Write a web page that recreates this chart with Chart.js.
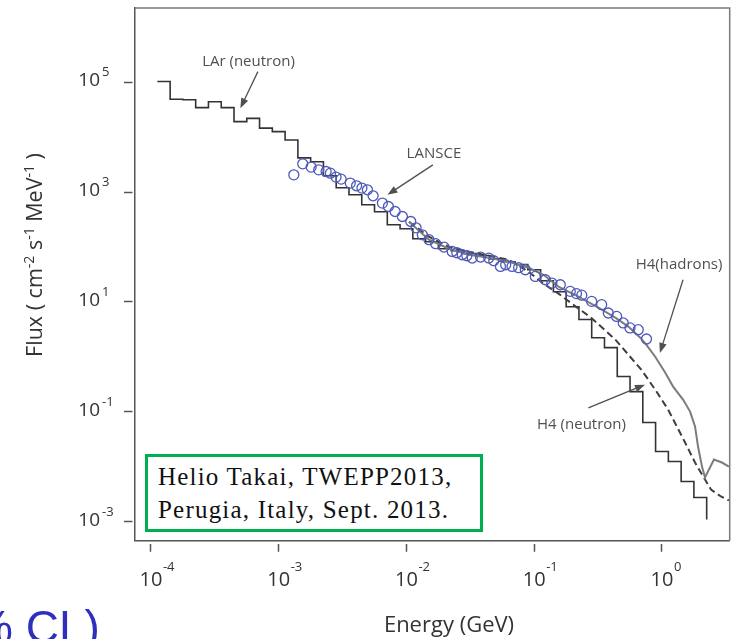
<!DOCTYPE html>
<html>
<head>
<meta charset="utf-8">
<script src="https://cdn.jsdelivr.net/npm/chart.js@4.4.1/dist/chart.umd.min.js"></script>
<style>
  html, body { margin: 0; padding: 0; background: #fff; }
  #wrap { position: relative; width: 736px; height: 639px; overflow: hidden; }
  #note {
    position: absolute; left: 145px; top: 454px; width: 338px; height: 78px;
    box-sizing: border-box; border: 3.3px solid #00b050; background: #fff;
    padding: 2.5px 0 0 10px;
    font-family: "Liberation Serif", "Times New Roman", serif;
    font-size: 25px; line-height: 33px; color: #111; letter-spacing: 1.2px;
    white-space: nowrap;
  }
  #cl {
    position: absolute; left: -28px; top: 604px;
    font-family: "Liberation Sans", Arial, sans-serif;
    font-size: 46px; line-height: 46px; color: #2f2fbf; white-space: nowrap;
  }
</style>
</head>
<body>
<div id="wrap">
  <canvas id="flux"></canvas>
  <div id="note">Helio Takai, TWEPP2013,<br>Perugia, Italy, Sept. 2013.</div>
  <div id="cl">% CL)</div>
</div>
<script>
// LAr neutron spectrum, histogram bin edges (GeV) and per-bin flux
const larEdges = [
  1.122e-4, 1.413e-4, 1.778e-4, 2.239e-4, 2.818e-4, 3.548e-4, 4.467e-4, 5.623e-4, 7.079e-4, 8.913e-4,
  1.122e-3, 1.413e-3, 1.778e-3, 2.239e-3, 2.818e-3, 3.548e-3, 4.467e-3, 5.623e-3, 7.079e-3, 8.913e-3,
  0.01122, 0.01413, 0.01778, 0.02239, 0.02818, 0.03548, 0.04467, 0.05623, 0.07079, 0.08913,
  0.1122, 0.1413, 0.1778, 0.2239, 0.2818, 0.3548, 0.4467, 0.5623, 0.7079, 0.8913,
  1.122, 1.413, 1.778, 2.239
];
const larFlux = [
  1.03e5, 4.9e4, 4.8e4, 3.45e4, 4.4e4, 3.45e4, 1.92e4, 2.2e4, 1.46e4, 1.26e4,
  8.9e3, 4.2e3, 3.56e3, 1.98e3, 1.2e3, 893, 588, 438, 254, 215,
  142, 125, 93, 86, 76, 70, 61, 54, 48, 38.6,
  24.4, 15.4, 8.2, 4.8, 2.24, 1.48, 0.44, 0.234, 0.064, 0.019,
  0.0125, 0.0054, 0.00277
];
const larTail = 0.0011;

// LANSCE measurement
const lansceEnergy = [
  1.313e-3, 1.542e-3, 1.794e-3, 2.056e-3, 2.35e-3, 2.54e-3, 2.81e-3, 3.08e-3, 3.63e-3, 4.07e-3,
  4.48e-3, 4.95e-3, 5.48e-3, 6.48e-3, 7.22e-3, 8.15e-3, 9.29e-3, 0.01081, 0.01189, 0.01331,
  0.0150, 0.01693, 0.01965, 0.0228, 0.0248, 0.0273, 0.0297, 0.0327, 0.038, 0.0441,
  0.0482, 0.0544, 0.0598, 0.067, 0.0755, 0.0852, 0.102, 0.1222, 0.1375, 0.16,
  0.1914, 0.2143, 0.2357, 0.2818, 0.3373, 0.3802, 0.4416, 0.4977, 0.5618, 0.652, 0.7568
];
const lansceFlux = [
  2065, 3273, 2851, 2543, 2370, 2215, 1875, 1723, 1458, 1303,
  1183, 1102, 857, 631, 547, 444, 360, 292, 224, 167,
  136, 115, 100, 83, 78.8, 72.4, 69.5, 63.1, 65.8, 63.1,
  56.4, 44.4, 47.6, 44.4, 42.1, 38.6, 29.2, 25.4, 22.1, 20.6,
  15.6, 14.2, 13.3, 10.26, 8.93, 6.31, 5.47, 4.15, 3.37, 3.13, 2.12
];

// H4 hadrons
const hadronEnergy = [
  0.01047, 0.0150, 0.0215, 0.0308, 0.0441, 0.0631, 0.0903, 0.1183, 0.1549, 0.2218,
  0.3177, 0.4313, 0.5453, 0.6765, 0.7535, 0.8853, 1.059, 1.222, 1.462, 1.660,
  1.815, 1.916, 2.057, 2.172, 2.552, 2.945, 3.34
];
const hadronFlux = [
  288, 136, 93, 72.4, 63.8, 54.1, 42.1, 31.3, 19.0, 12.5,
  7.87, 5.19, 3.56, 2.24, 1.67, 1.01, 0.519, 0.2886, 0.1675, 0.1012,
  0.0541, 0.0234, 0.0101, 0.00638, 0.0136, 0.01197, 0.0101
];

// H4 neutrons
const h4nEnergy = [
  0.01047, 0.0150, 0.0215, 0.0308, 0.0441, 0.0631, 0.0903, 0.1183, 0.1549, 0.2104,
  0.2805, 0.4313, 0.6887, 0.8853, 1.117, 1.517, 1.815, 2.172, 2.42, 2.897, 3.34
];
const h4nFlux = [
  288, 154, 101, 82.2, 69.5, 58.8, 35.6, 21.5, 14.2, 8.32,
  5.12, 2.07, 0.5875, 0.2543, 0.1101, 0.0277, 0.01197, 0.00587, 0.00386, 0.00288, 0.00244
];

const xTicks = [1e-4, 1e-3, 1e-2, 1e-1, 1];
const yTicks = [1e-3, 1e-1, 1e1, 1e3, 1e5];

// labelled arrows, in (energy, flux)
const noteText = ['LAr (neutron)', 'LANSCE', 'H4(hadrons)', 'H4 (neutron)'];
const noteAt = [[5.8e-4, 2.37e5], [0.0164, 4966], [1.361, 47.6], [0.2345, 0.0585]];
const arrowFrom = [[6.87e-4, 1.56e5], [0.0161, 3133], [1.462, 25.4], [0.2655, 0.118]];
const arrowTo = [[5.01e-4, 3.37e4], [7.1e-3, 893], [0.964, 1.18], [0.736, 0.313]];

const pairs = (xs, ys) => xs.map((v, i) => ({ x: v, y: ys[i] }));

// step outline: each bin value held across its width, closed by a drop at the last edge
const larPoints = larFlux.map((f, i) => ({ x: larEdges[i], y: f }));
larPoints.push({ x: larEdges[larFlux.length], y: larFlux[larFlux.length - 1] });
larPoints.push({ x: larEdges[larFlux.length], y: larTail });

const SANS = '"Open Sans", "DejaVu Sans", sans-serif';

function drawArrow(ctx, x1, y1, x2, y2) {
  const a = Math.atan2(y2 - y1, x2 - x1);
  const len = 10, half = 3.8;
  ctx.beginPath();
  ctx.moveTo(x1, y1);
  ctx.lineTo(x2 - Math.cos(a) * len * 0.8, y2 - Math.sin(a) * len * 0.8);
  ctx.stroke();
  ctx.beginPath();
  ctx.moveTo(x2, y2);
  ctx.lineTo(x2 - Math.cos(a) * len + Math.sin(a) * half, y2 - Math.sin(a) * len - Math.cos(a) * half);
  ctx.lineTo(x2 - Math.cos(a) * len - Math.sin(a) * half, y2 - Math.sin(a) * len + Math.cos(a) * half);
  ctx.closePath();
  ctx.fill();
}

// draws runs of [text, isSuperscript] starting at x, returns end x
function drawRuns(ctx, runs, x, base, size, supSize, rise) {
  runs.forEach(([t, sup]) => {
    ctx.font = (sup ? supSize : size) + 'px ' + SANS;
    ctx.fillText(t, x, sup ? base - rise : base);
    x += ctx.measureText(t).width;
  });
  return x;
}
function runsWidth(ctx, runs, size, supSize) {
  return runs.reduce((w, [t, sup]) => {
    ctx.font = (sup ? supSize : size) + 'px ' + SANS;
    return w + ctx.measureText(t).width;
  }, 0);
}

const decorations = {
  id: 'decorations',
  afterDraw(chart) {
    const { ctx, chartArea: area, scales: { x, y } } = chart;
    ctx.save();

    // closing top and right edges of the frame
    ctx.strokeStyle = '#7a7a7a';
    ctx.lineWidth = 1.5;
    ctx.beginPath();
    ctx.moveTo(area.left, area.top);
    ctx.lineTo(area.right, area.top);
    ctx.lineTo(area.right, area.bottom);
    ctx.stroke();

    // power-of-ten tick labels
    ctx.fillStyle = '#333';
    ctx.textAlign = 'left';
    ctx.textBaseline = 'alphabetic';
    xTicks.forEach(v => {
      const px = x.getPixelForValue(v);
      ctx.font = '20px ' + SANS;
      const w = ctx.measureText('10').width;
      ctx.fillText('10', px - w / 2, area.bottom + 45);
      ctx.font = '13px ' + SANS;
      ctx.fillText(String(Math.round(Math.log10(v))), px + w / 2 + 0.5, area.bottom + 30.5);
    });
    yTicks.forEach(v => {
      const py = y.getPixelForValue(v);
      ctx.font = '19px ' + SANS;
      const w = ctx.measureText('10').width;
      ctx.fillText('10', area.left - 35 - w, py + 4);
      ctx.font = '13px ' + SANS;
      ctx.fillText(String(Math.round(Math.log10(v))), area.left - 33, py - 6);
    });

    // axis titles
    ctx.fillStyle = '#333';
    ctx.font = '22px ' + SANS;
    ctx.textAlign = 'center';
    ctx.fillText('Energy (GeV)', 449, area.bottom + 91);

    const yTitle = [['Flux ( cm', false], ['-2', true], [' s', false], ['-1', true],
                    [' MeV', false], ['-1', true], [' )', false]];
    ctx.save();
    ctx.translate(area.left - 93, area.top + 247);
    ctx.rotate(-Math.PI / 2);
    ctx.textAlign = 'left';
    const tw = runsWidth(ctx, yTitle, 21.5, 14);
    drawRuns(ctx, yTitle, -tw / 2, 0, 21.5, 14, 8);
    ctx.restore();

    // labelled arrows
    ctx.fillStyle = '#505050';
    ctx.strokeStyle = '#505050';
    ctx.lineWidth = 1.3;
    ctx.font = '15px ' + SANS;
    ctx.textAlign = 'center';
    ctx.textBaseline = 'middle';
    noteText.forEach((t, i) => {
      ctx.fillText(t, x.getPixelForValue(noteAt[i][0]), y.getPixelForValue(noteAt[i][1]));
      drawArrow(ctx,
        x.getPixelForValue(arrowFrom[i][0]), y.getPixelForValue(arrowFrom[i][1]),
        x.getPixelForValue(arrowTo[i][0]), y.getPixelForValue(arrowTo[i][1]));
    });
    ctx.restore();
  }
};

const logAxis = (min, max, ticks, fit, dash) => ({
  type: 'logarithmic',
  bounds: 'data',
  min, max,
  afterBuildTicks: s => { s.ticks = ticks.map(v => ({ value: v })); },
  afterFit: fit,
  ticks: { display: false },
  grid: {
    drawOnChartArea: false, drawTicks: true, tickLength: 11,
    tickColor: '#555', tickWidth: 1.5, tickBorderDash: dash
  },
  border: { display: true, color: '#555', width: 1.5 }
});

new Chart(document.getElementById('flux'), {
  type: 'scatter',
  data: {
    datasets: [
      {
        label: 'LANSCE',
        data: pairs(lansceEnergy, lansceFlux),
        showLine: false,
        pointRadius: 5,
        pointBorderWidth: 1.3,
        pointBorderColor: '#4f5ab8',
        pointBackgroundColor: 'rgba(255,255,255,0)'
      },
      {
        label: 'H4(hadrons)',
        data: pairs(hadronEnergy, hadronFlux),
        showLine: true,
        borderColor: '#7c7c7c',
        borderWidth: 2,
        pointRadius: 0
      },
      {
        label: 'H4 (neutron)',
        data: pairs(h4nEnergy, h4nFlux),
        showLine: true,
        borderColor: '#3f3f3f',
        borderWidth: 2,
        borderDash: [7, 4],
        pointRadius: 0
      },
      {
        label: 'LAr (neutron)',
        data: larPoints,
        showLine: true,
        stepped: true,
        borderColor: '#333',
        borderWidth: 1.6,
        pointRadius: 0
      }
    ]
  },
  options: {
    responsive: true,
    maintainAspectRatio: false,
    animation: false,
    events: [],
    layout: { padding: { top: 8, right: 4.3, left: 0, bottom: 0 } },
    plugins: { legend: { display: false }, tooltip: { enabled: false } },
    scales: {
      x: logAxis(7.5e-5, 3.39, xTicks, s => { s.height = 98.3; }, [0, 2.5, 9, 100]),
      y: logAxis(4.52e-4, 2.244e6, yTicks, s => { s.width = 135; }, [8.5, 100])
    }
  },
  plugins: [decorations]
});
</script>
</body>
</html>
